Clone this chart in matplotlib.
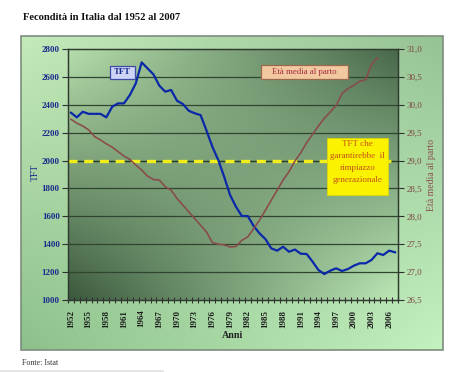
import numpy as np
import matplotlib
matplotlib.use('Agg')
import matplotlib.pyplot as plt
from matplotlib.patches import Rectangle

# ---------------- data ----------------
years = list(range(1952, 2008))
tft = [2343, 2310, 2350, 2335, 2335, 2335, 2310, 2386, 2410, 2410,
       2470, 2553, 2704, 2661, 2618, 2537, 2494, 2506, 2429, 2405,
       2357, 2339, 2326, 2215, 2099, 2004, 1884, 1753, 1669, 1602,
       1602, 1531, 1478, 1437, 1370, 1354, 1382, 1346, 1362, 1332,
       1330, 1275, 1215, 1186, 1210, 1227, 1208, 1222, 1246, 1263,
       1263, 1287, 1335, 1323, 1354, 1342]
eta_years = list(range(1952, 2005))
eta = [29.74, 29.67, 29.62, 29.55, 29.43, 29.37, 29.30, 29.24, 29.16, 29.08,
       29.02, 28.92, 28.83, 28.72, 28.66, 28.65, 28.53, 28.47, 28.32, 28.20,
       28.08, 27.96, 27.84, 27.72, 27.53, 27.50, 27.49, 27.45, 27.46, 27.57,
       27.63, 27.78, 27.93, 28.11, 28.29, 28.47, 28.65, 28.80, 28.99, 29.14,
       29.32, 29.47, 29.62, 29.76, 29.87, 29.99, 30.20, 30.29, 30.35, 30.42,
       30.45, 30.72, 30.84]
left_ticks = [1000, 1200, 1400, 1600, 1800, 2000, 2200, 2400, 2600, 2800]
right_ticks = [26.5, 27.0, 27.5, 28.0, 28.5, 29.0, 29.5, 30.0, 30.5, 31.0]
replacement_level = 2000
title = "Fecondità in Italia dal 1952 al 2007"
source = "Fonte: Istat"

plt.rcParams['font.family'] = ['Liberation Serif', 'DejaVu Serif']
plt.rcParams['lines.scale_dashes'] = False

W, H = 474, 372
fig = plt.figure(figsize=(W / 100, H / 100), dpi=100)
fig.patch.set_facecolor('white')


def bilinear(tl, tr, bl, br, n=240):
    tl, tr, bl, br = [np.array(c, float) / 255 for c in (tl, tr, bl, br)]
    u = np.linspace(0, 1, n)[None, :, None]
    v = np.linspace(1, 0, n)[:, None, None]
    return (tl * (1 - u) * v + tr * u * v + bl * (1 - u) * (1 - v) + br * u * (1 - v))


def fx(px):
    return px / W


def fy(py):
    return 1 - py / H


# outer chart area
bg = fig.add_axes([fx(21), fy(350), (443 - 21) / W, (350 - 36) / H])
bg.imshow(bilinear((196, 234, 186), (150, 195, 148), (140, 192, 138), (196, 242, 192)),
          extent=(0, 1, 0, 1), aspect='auto')
bg.set_axis_off()
bg.add_patch(Rectangle((0, 0), 1, 1, transform=bg.transAxes, fill=False,
                       ec='#7d8c7d', lw=1.2, clip_on=False))

# plot area
ax = fig.add_axes([fx(68), fy(300), (398 - 68) / W, (300 - 49) / H])
n = len(years)
ax.imshow(bilinear((182, 222, 172), (72, 104, 74), (58, 88, 60), (188, 232, 182)),
          extent=(-0.5, n - 0.5, left_ticks[0], left_ticks[-1]), aspect='auto', zorder=0)
ax.set_xlim(-0.5, n - 0.5)
ax.set_ylim(left_ticks[0], left_ticks[-1])

for t in left_ticks[1:-1]:
    ax.axhline(t, color='#2f4530', lw=0.9, zorder=1)

ax.axhline(replacement_level, color='#2a3f2a', lw=0.9, zorder=2)
ax.axhline(replacement_level, color='#f2ee1c', lw=2.4, dashes=(6.5, 4.8), zorder=2.5)

xs = np.arange(n)
ax.plot(xs, tft, color='#0a28a8', lw=1.6, zorder=3, solid_joinstyle='round')

ax.set_yticks(left_ticks)
ax.set_yticklabels([str(t) for t in left_ticks], fontsize=6.5, fontweight='bold', color='#1a2a8c')
ax.tick_params(axis='y', direction='out', length=4, width=0.8, color='#303030', pad=2)

label_idx = list(range(0, n, 3))
ax.set_xticks(label_idx)
ax.set_xticklabels([str(years[i]) for i in label_idx], rotation=90, fontsize=6.5,
                   fontweight='bold', color='#1e1e1e')
ax.tick_params(axis='x', which='major', length=0, pad=7)
ax.set_xticks(np.arange(-0.5, n, 1), minor=True)
ax.tick_params(axis='x', which='minor', direction='inout', length=5, width=0.8, color='#303030')

for s in ['left', 'right', 'bottom', 'top']:
    ax.spines[s].set_color('#303a30')
    ax.spines[s].set_linewidth(0.9)

# right axis
ax2 = ax.twinx()
ax2.plot(np.arange(len(eta)), eta, color='#8a4a4a', lw=1.15, zorder=3)
ax2.set_ylim(right_ticks[0], right_ticks[-1])
ax2.set_yticks(right_ticks)
ax2.set_yticklabels([f"{t:.1f}".replace('.', ',') for t in right_ticks], fontsize=6.5,
                    color='#7c4444')
ax2.tick_params(axis='y', direction='out', length=4, width=0.8, color='#303030', pad=2)
for s in ['left', 'right', 'bottom', 'top']:
    ax2.spines[s].set_color('#303a30')
    ax2.spines[s].set_linewidth(0.9)


def box(x0, x1, y0, y1, fc, ec, lw=0.9):
    ax2.add_patch(Rectangle(((x0 - 68) / 330, (300 - y1) / 251), (x1 - x0) / 330, (y1 - y0) / 251,
                            transform=ax2.transAxes, fc=fc, ec=ec, lw=lw, zorder=5, clip_on=False))
    return ((x0 + x1) / 2 - 68) / 330, (300 - (y0 + y1) / 2) / 251


cx, cy = box(110, 135, 66, 79, '#cdd4f6', '#3c4ca0')
ax2.text(cx, cy, 'TFT', transform=ax2.transAxes, ha='center', va='center', fontsize=6.2,
         fontweight='bold', color='#1a2a8c', zorder=6)
cx, cy = box(261, 348, 65, 79, '#f2c8a0', '#9a6a50')
ax2.text(cx, cy, 'Età media al parto', transform=ax2.transAxes, ha='center', va='center',
         fontsize=6.3, color='#a0283c', zorder=6)
cx, cy = box(327, 388, 138, 195, '#fbf200', '#e0d800', lw=0.5)
for line, py in zip(['TFT che', 'garantirebbe  il', 'rimpiazzo', 'generazionale'],
                    [144.3, 156, 167.7, 180]):
    ax2.text(cx, (300 - py) / 251, line, transform=ax2.transAxes, ha='center', va='center',
             fontsize=6.5, color='#c4501c', zorder=6)

# texts
fig.text(fx(35.5), fy(172), 'TFT', rotation=90, ha='center', va='center', fontsize=7,
         color='#1a2a8c')
fig.text(fx(431), fy(175), 'Età media al parto', rotation=90, ha='center', va='center',
         fontsize=7, color='#8a5050')
fig.text(fx(233), fy(336), 'Anni', ha='center', va='center', fontsize=7.2, fontweight='bold',
         color='#222222')
fig.text(fx(23), fy(17), title, ha='left', va='center', fontsize=7.6, fontweight='bold',
         color='#111111')
fig.text(fx(22), fy(363), source, ha='left', va='center', fontsize=5.8, color='#333333')
fig.add_artist(plt.Line2D([0, fx(163)], [fy(371), fy(371)], color='#e0e0e0', lw=1.2))

fig.savefig('out.png', dpi=100)
